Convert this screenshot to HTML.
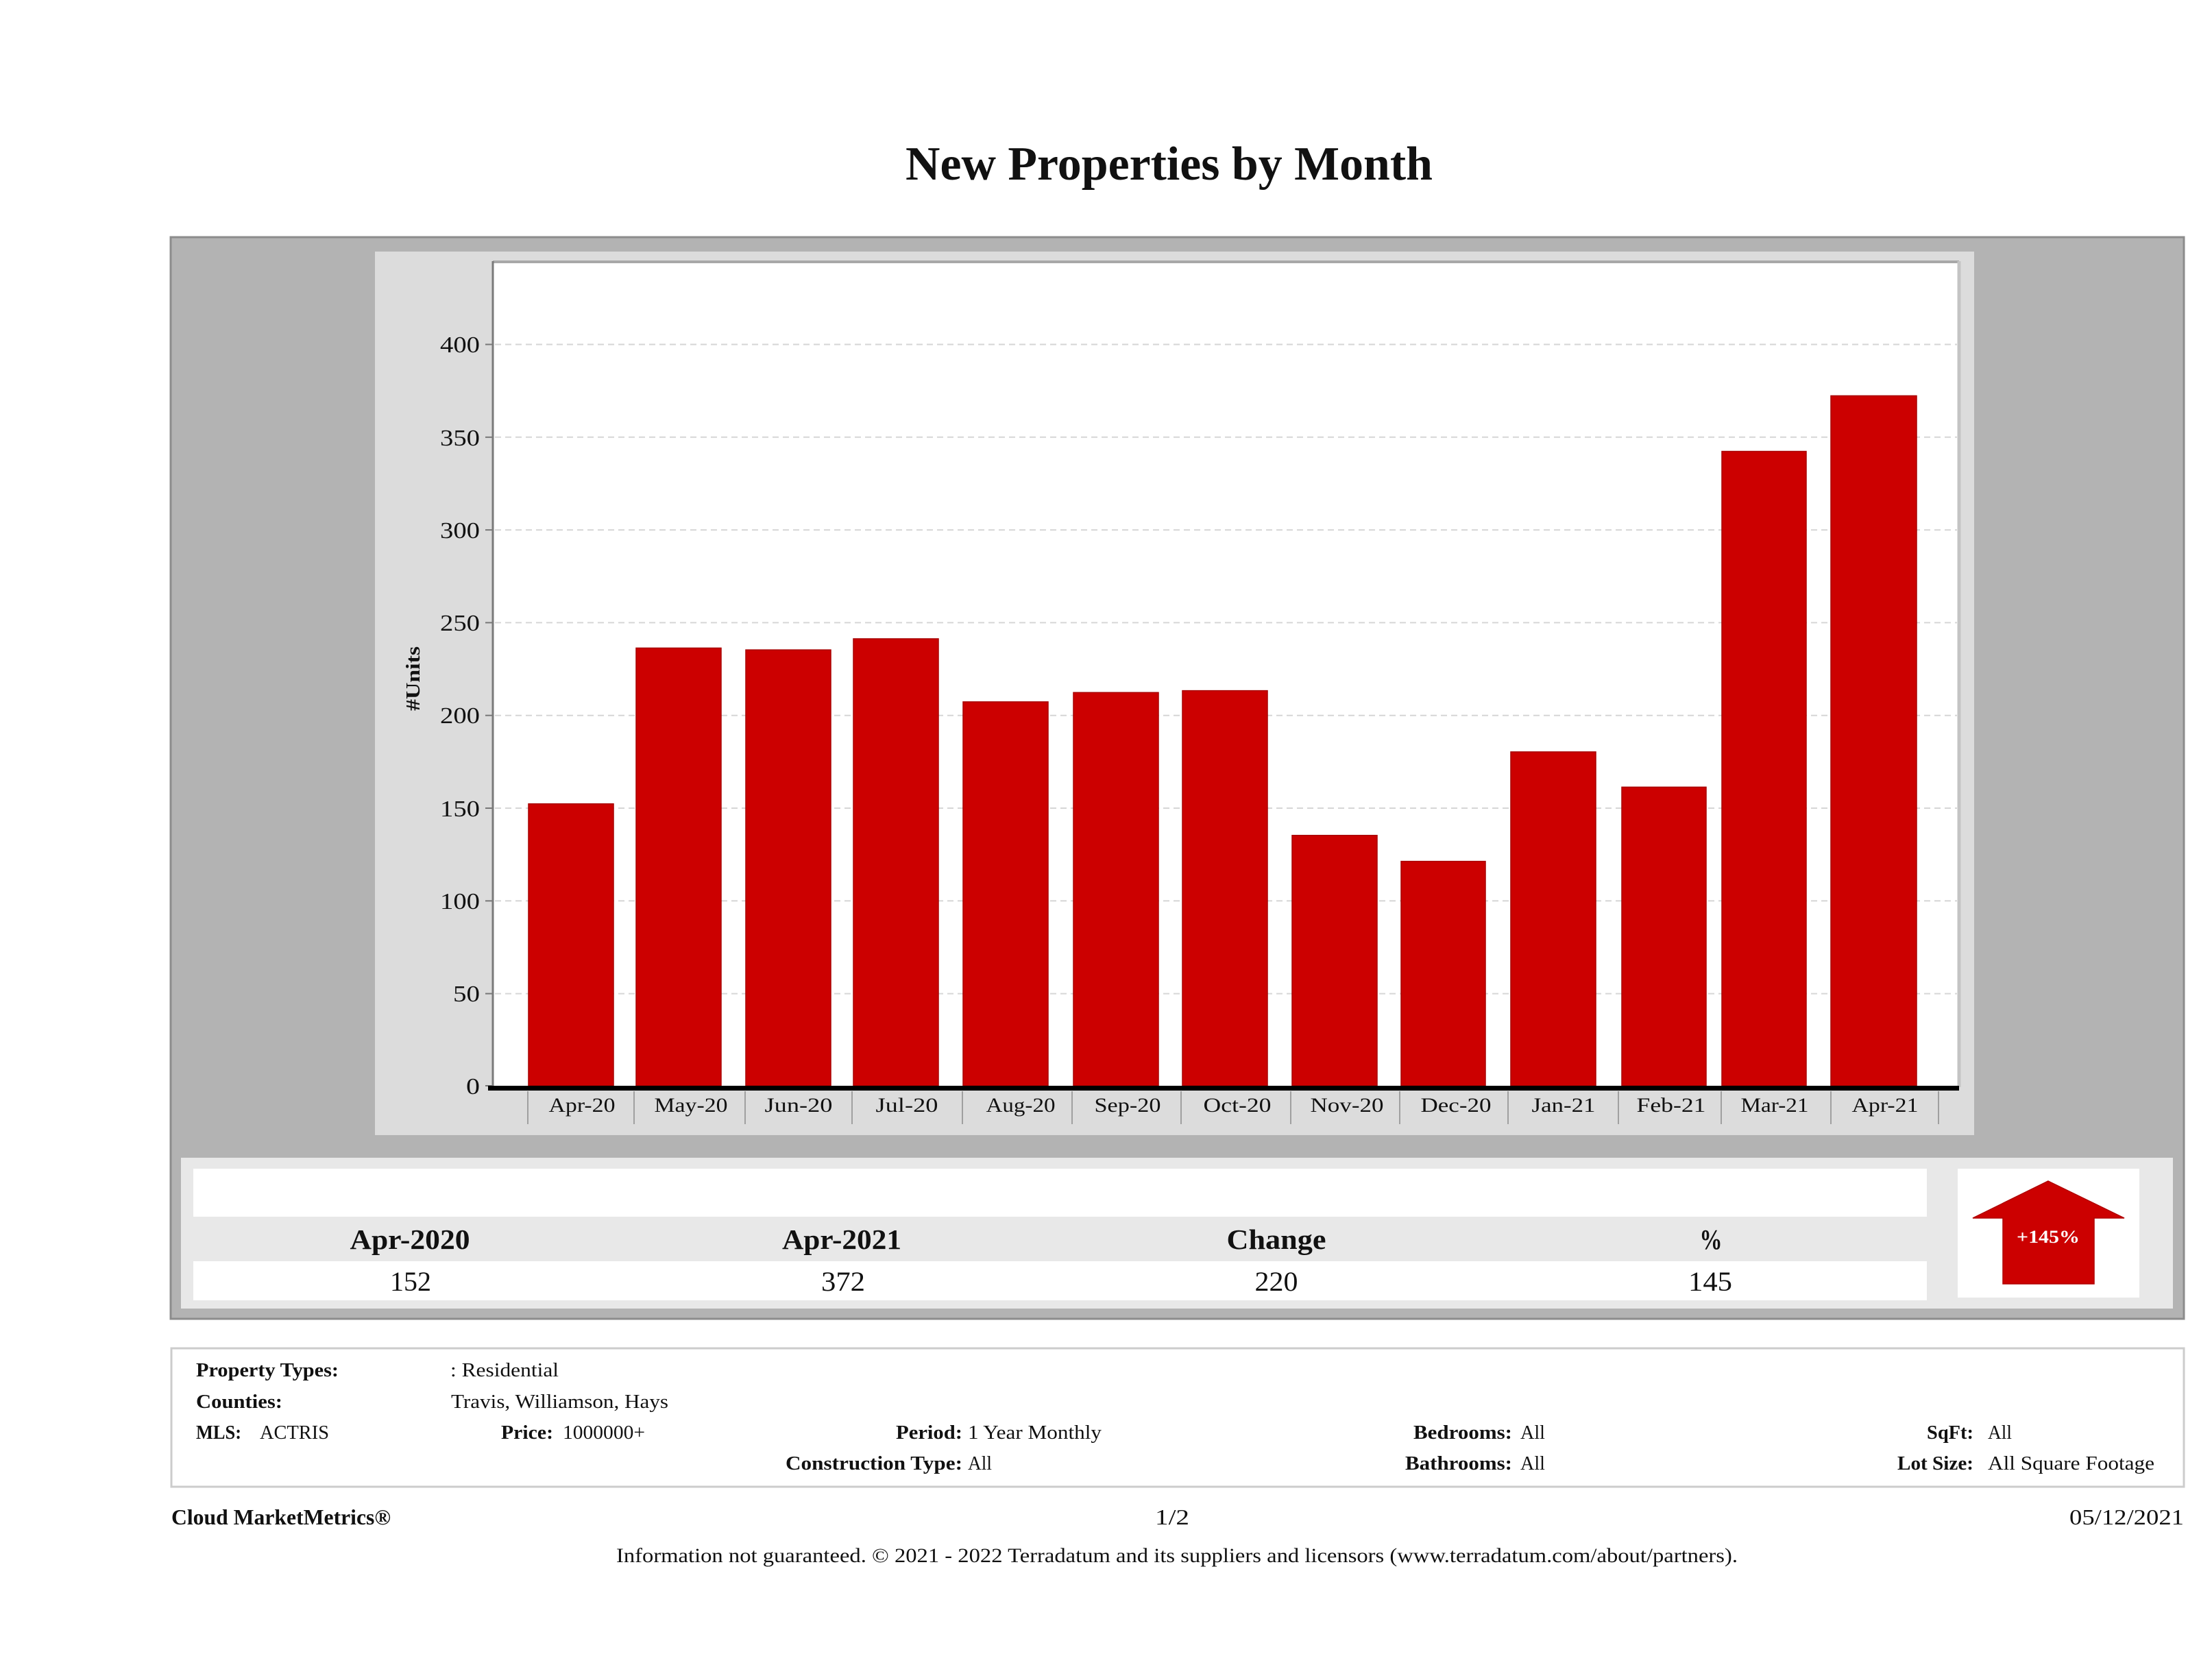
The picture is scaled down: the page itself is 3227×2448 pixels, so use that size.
<!DOCTYPE html>
<html>
<head>
<meta charset="utf-8">
<style>
  html,body{margin:0;padding:0;background:#fff;}
  svg{display:block;}
  text{font-family:"Liberation Serif","DejaVu Serif",serif;fill:#111;}
  .b{font-weight:bold;}
</style>
</head>
<body>
<svg width="3227" height="2448" viewBox="0 0 3227 2448" xmlns="http://www.w3.org/2000/svg">
  <rect x="0" y="0" width="3227" height="2448" fill="#ffffff"/>

  <!-- Title -->
  <text class="b" x="1321" y="262" font-size="70" textLength="769" lengthAdjust="spacingAndGlyphs">New Properties by Month</text>

  <!-- Outer gray box -->
  <rect x="249" y="346" width="2937" height="1578" fill="#b3b3b3" stroke="#8c8c8c" stroke-width="3"/>

  <!-- Chart panel -->
  <rect x="547" y="367" width="2333" height="1289" fill="#dcdcdc"/>
  <!-- Plot area -->
  <rect x="719" y="381" width="2138" height="1203" fill="#ffffff"/>
  <line x1="719" y1="382" x2="2858" y2="382" stroke="#a8a8a8" stroke-width="4"/>
  <line x1="2858" y1="381" x2="2858" y2="1586" stroke="#c4c4c4" stroke-width="5"/>

  <!-- gridlines -->
  <g stroke="#d6d6d6" stroke-width="2" stroke-dasharray="9,6">
    <line x1="722" y1="502.5" x2="2855" y2="502.5"/>
    <line x1="722" y1="637.8" x2="2855" y2="637.8"/>
    <line x1="722" y1="773.1" x2="2855" y2="773.1"/>
    <line x1="722" y1="908.4" x2="2855" y2="908.4"/>
    <line x1="722" y1="1043.7" x2="2855" y2="1043.7"/>
    <line x1="722" y1="1179" x2="2855" y2="1179"/>
    <line x1="722" y1="1314.3" x2="2855" y2="1314.3"/>
    <line x1="722" y1="1449.6" x2="2855" y2="1449.6"/>
  </g>

  <!-- y tick marks -->
  <g stroke="#777" stroke-width="2">
    <line x1="708" y1="502.5" x2="718" y2="502.5"/>
    <line x1="708" y1="637.8" x2="718" y2="637.8"/>
    <line x1="708" y1="773.1" x2="718" y2="773.1"/>
    <line x1="708" y1="908.4" x2="718" y2="908.4"/>
    <line x1="708" y1="1043.7" x2="718" y2="1043.7"/>
    <line x1="708" y1="1179" x2="718" y2="1179"/>
    <line x1="708" y1="1314.3" x2="718" y2="1314.3"/>
    <line x1="708" y1="1449.6" x2="718" y2="1449.6"/>
    <line x1="708" y1="1584" x2="718" y2="1584"/>
  </g>

  <!-- y tick labels -->
  <g font-size="34" text-anchor="end">
    <text x="700" y="514" textLength="58" lengthAdjust="spacingAndGlyphs">400</text>
    <text x="700" y="650" textLength="58" lengthAdjust="spacingAndGlyphs">350</text>
    <text x="700" y="785" textLength="58" lengthAdjust="spacingAndGlyphs">300</text>
    <text x="700" y="920" textLength="58" lengthAdjust="spacingAndGlyphs">250</text>
    <text x="700" y="1055" textLength="58" lengthAdjust="spacingAndGlyphs">200</text>
    <text x="700" y="1191" textLength="58" lengthAdjust="spacingAndGlyphs">150</text>
    <text x="700" y="1326" textLength="58" lengthAdjust="spacingAndGlyphs">100</text>
    <text x="700" y="1461" textLength="39" lengthAdjust="spacingAndGlyphs">50</text>
    <text x="700" y="1596" textLength="20" lengthAdjust="spacingAndGlyphs">0</text>
  </g>

  <!-- y axis title -->
  <text class="b" font-size="28" text-anchor="middle" transform="translate(612,990) rotate(-90)" textLength="94" lengthAdjust="spacingAndGlyphs">#Units</text>

  <!-- bars -->
  <g fill="#cc0000" stroke="#a80000" stroke-width="1.5">
    <rect x="771" y="1172.7" width="124" height="411.3"/>
    <rect x="928" y="945.4" width="124" height="638.6"/>
    <rect x="1088" y="948.1" width="124" height="635.9"/>
    <rect x="1245" y="931.9" width="124" height="652.1"/>
    <rect x="1405" y="1023.9" width="124" height="560.1"/>
    <rect x="1566" y="1010.3" width="124" height="573.7"/>
    <rect x="1725" y="1007.6" width="124" height="576.4"/>
    <rect x="1885" y="1218.7" width="124" height="365.3"/>
    <rect x="2044" y="1256.6" width="123" height="327.4"/>
    <rect x="2204" y="1096.9" width="124" height="487.1"/>
    <rect x="2366" y="1148.3" width="123" height="435.7"/>
    <rect x="2512" y="658.5" width="123" height="925.5"/>
    <rect x="2671" y="577.4" width="125" height="1006.6"/>
  </g>

  <!-- y axis line -->
  <line x1="719" y1="381" x2="719" y2="1588" stroke="#7a7a7a" stroke-width="3"/>
  <!-- x axis thick black -->
  <rect x="712" y="1584" width="2146" height="7" fill="#000"/>

  <!-- category separators -->
  <g stroke="#a0a0a0" stroke-width="2">
    <line x1="770" y1="1592" x2="770" y2="1640"/>
    <line x1="925" y1="1592" x2="925" y2="1640"/>
    <line x1="1087" y1="1592" x2="1087" y2="1640"/>
    <line x1="1243" y1="1592" x2="1243" y2="1640"/>
    <line x1="1404" y1="1592" x2="1404" y2="1640"/>
    <line x1="1564" y1="1592" x2="1564" y2="1640"/>
    <line x1="1723" y1="1592" x2="1723" y2="1640"/>
    <line x1="1883" y1="1592" x2="1883" y2="1640"/>
    <line x1="2042" y1="1592" x2="2042" y2="1640"/>
    <line x1="2200" y1="1592" x2="2200" y2="1640"/>
    <line x1="2361" y1="1592" x2="2361" y2="1640"/>
    <line x1="2511" y1="1592" x2="2511" y2="1640"/>
    <line x1="2671" y1="1592" x2="2671" y2="1640"/>
    <line x1="2828" y1="1592" x2="2828" y2="1640"/>
  </g>

  <!-- x labels -->
  <g font-size="30" text-anchor="middle">
    <text x="849" y="1622" textLength="97" lengthAdjust="spacingAndGlyphs">Apr-20</text>
    <text x="1008" y="1622" textLength="107" lengthAdjust="spacingAndGlyphs">May-20</text>
    <text x="1165" y="1622" textLength="99" lengthAdjust="spacingAndGlyphs">Jun-20</text>
    <text x="1323" y="1622" textLength="91" lengthAdjust="spacingAndGlyphs">Jul-20</text>
    <text x="1489" y="1622" textLength="101" lengthAdjust="spacingAndGlyphs">Aug-20</text>
    <text x="1645" y="1622" textLength="97" lengthAdjust="spacingAndGlyphs">Sep-20</text>
    <text x="1805" y="1622" textLength="99" lengthAdjust="spacingAndGlyphs">Oct-20</text>
    <text x="1965" y="1622" textLength="107" lengthAdjust="spacingAndGlyphs">Nov-20</text>
    <text x="2124" y="1622" textLength="103" lengthAdjust="spacingAndGlyphs">Dec-20</text>
    <text x="2281" y="1622" textLength="93" lengthAdjust="spacingAndGlyphs">Jan-21</text>
    <text x="2438" y="1622" textLength="101" lengthAdjust="spacingAndGlyphs">Feb-21</text>
    <text x="2589" y="1622" textLength="99" lengthAdjust="spacingAndGlyphs">Mar-21</text>
    <text x="2750" y="1622" textLength="97" lengthAdjust="spacingAndGlyphs">Apr-21</text>
  </g>

  <!-- Stats panel -->
  <rect x="264" y="1689" width="2906" height="220" fill="#e8e8e8"/>
  <rect x="282" y="1705" width="2529" height="70" fill="#ffffff"/>
  <rect x="282" y="1840" width="2529" height="57" fill="#ffffff"/>
  <g class="b" font-size="41" text-anchor="middle">
    <text class="b" x="598" y="1822" textLength="175" lengthAdjust="spacingAndGlyphs">Apr-2020</text>
    <text class="b" x="1228" y="1822" textLength="174" lengthAdjust="spacingAndGlyphs">Apr-2021</text>
    <text class="b" x="1862" y="1822" textLength="145" lengthAdjust="spacingAndGlyphs">Change</text>
    <text class="b" x="2496" y="1822" textLength="33" lengthAdjust="spacingAndGlyphs">%</text>
  </g>
  <g font-size="40" text-anchor="middle">
    <text x="599" y="1883" textLength="60" lengthAdjust="spacingAndGlyphs">152</text>
    <text x="1230" y="1883" textLength="64" lengthAdjust="spacingAndGlyphs">372</text>
    <text x="1862" y="1883" textLength="63" lengthAdjust="spacingAndGlyphs">220</text>
    <text x="2495" y="1883" textLength="64" lengthAdjust="spacingAndGlyphs">145</text>
  </g>

  <!-- Arrow box -->
  <rect x="2856" y="1705" width="265" height="188" fill="#ffffff"/>
  <polygon points="2988,1723 3099,1777 3055,1777 3055,1873 2922,1873 2922,1777 2878,1777" fill="#cc0000" stroke="#b00000" stroke-width="1.5"/>
  <text class="b" x="2988" y="1813" font-size="26" text-anchor="middle" style="fill:#ffffff" textLength="92" lengthAdjust="spacingAndGlyphs">+145%</text>

  <!-- Info box -->
  <rect x="250" y="1967" width="2936" height="202" fill="#ffffff" stroke="#cccccc" stroke-width="3"/>
  <g font-size="29">
    <text class="b" x="286" y="2008" textLength="208" lengthAdjust="spacingAndGlyphs">Property Types:</text>
    <text x="657" y="2008" textLength="158" lengthAdjust="spacingAndGlyphs">: Residential</text>

    <text class="b" x="286" y="2054" textLength="126" lengthAdjust="spacingAndGlyphs">Counties:</text>
    <text x="658" y="2054" textLength="317" lengthAdjust="spacingAndGlyphs">Travis, Williamson, Hays</text>

    <text class="b" x="286" y="2099" textLength="66" lengthAdjust="spacingAndGlyphs">MLS:</text>
    <text x="379" y="2099" textLength="101" lengthAdjust="spacingAndGlyphs">ACTRIS</text>
    <text class="b" x="731" y="2099" textLength="76" lengthAdjust="spacingAndGlyphs">Price:</text>
    <text x="821" y="2099" textLength="120" lengthAdjust="spacingAndGlyphs">1000000+</text>
    <text class="b" x="1307" y="2099" textLength="97" lengthAdjust="spacingAndGlyphs">Period:</text>
    <text x="1412" y="2099" textLength="195" lengthAdjust="spacingAndGlyphs">1 Year Monthly</text>
    <text class="b" x="2062" y="2099" textLength="144" lengthAdjust="spacingAndGlyphs">Bedrooms:</text>
    <text x="2218" y="2099" textLength="36" lengthAdjust="spacingAndGlyphs">All</text>
    <text class="b" x="2811" y="2099" textLength="68" lengthAdjust="spacingAndGlyphs">SqFt:</text>
    <text x="2900" y="2099" textLength="35" lengthAdjust="spacingAndGlyphs">All</text>

    <text class="b" x="1146" y="2144" textLength="258" lengthAdjust="spacingAndGlyphs">Construction Type:</text>
    <text x="1412" y="2144" textLength="35" lengthAdjust="spacingAndGlyphs">All</text>
    <text class="b" x="2050" y="2144" textLength="156" lengthAdjust="spacingAndGlyphs">Bathrooms:</text>
    <text x="2218" y="2144" textLength="36" lengthAdjust="spacingAndGlyphs">All</text>
    <text class="b" x="2768" y="2144" textLength="111" lengthAdjust="spacingAndGlyphs">Lot Size:</text>
    <text x="2900" y="2144" textLength="243" lengthAdjust="spacingAndGlyphs">All Square Footage</text>
  </g>

  <!-- Footer -->
  <text class="b" x="250" y="2224" font-size="32" textLength="320" lengthAdjust="spacingAndGlyphs">Cloud MarketMetrics®</text>
  <text x="1710" y="2224" font-size="32" text-anchor="middle" textLength="50" lengthAdjust="spacingAndGlyphs">1/2</text>
  <text x="3186" y="2224" font-size="32" text-anchor="end" textLength="167" lengthAdjust="spacingAndGlyphs">05/12/2021</text>
  <text x="899" y="2279" font-size="30" textLength="1636" lengthAdjust="spacingAndGlyphs">Information not guaranteed. © 2021 - 2022 Terradatum and its suppliers and licensors (www.terradatum.com/about/partners).</text>
</svg>
</body>
</html>
